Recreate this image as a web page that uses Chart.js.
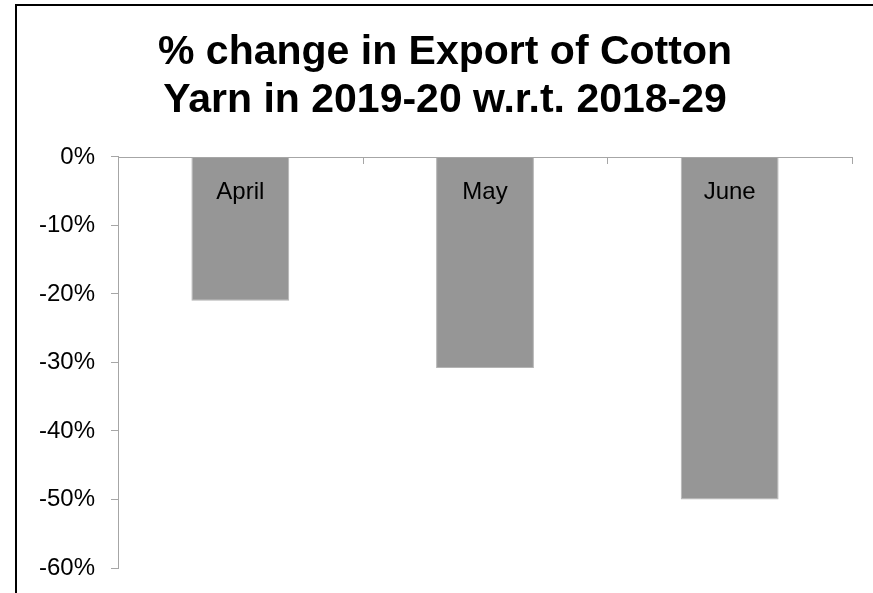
<!DOCTYPE html>
<html>
<head>
<meta charset="utf-8">
<script src="https://cdn.jsdelivr.net/npm/chart.js@4"></script>
<style>
  html, body { margin: 0; padding: 0; background: #fff; }
  #wrap { position: relative; width: 873px; height: 593px; overflow: hidden; }
  #c { position: absolute; left: 0; top: 0; }
  #frame { position: absolute; left: 15px; top: 4px; width: 1000px; height: 1000px;
           border-left: 2px solid #000; border-top: 2px solid #000; pointer-events: none; }
</style>
</head>
<body>
<div id="wrap">
  <canvas id="c" width="873" height="593"></canvas>
  <div id="frame"></div>
</div>
<script>
const titleLines = ['% change in Export of Cotton', 'Yarn in 2019-20 w.r.t. 2018-29'];
const categories = ['April', 'May', 'June'];
const changeValues = [-21, -30.8, -50];
const yMin = -60, yMax = 0, yStep = 10;

const AXIS_GRAY = '#a6a6a6';
const FONT = "'Liberation Sans', Arial, sans-serif";

const xAxisPlugin = {
  id: 'xAxisPlugin',
  afterDatasetsDraw(chart) {
    const ctx = chart.ctx;
    const xs = chart.scales.x, ys = chart.scales.y;
    const y0 = ys.getPixelForValue(0);
    ctx.save();
    ctx.strokeStyle = AXIS_GRAY;
    ctx.lineWidth = 1;
    ctx.beginPath();
    ctx.moveTo(xs.left, Math.round(y0) + 0.5);
    ctx.lineTo(xs.right, Math.round(y0) + 0.5);
    for (let i = 0; i <= categories.length; i++) {
      const x = Math.round(xs.getPixelForValue(i - 0.5)) + 0.5;
      ctx.moveTo(x, Math.round(y0));
      ctx.lineTo(x, Math.round(y0) + 7);
    }
    ctx.stroke();
    ctx.fillStyle = '#000';
    ctx.font = '24px ' + FONT;
    ctx.textAlign = 'center';
    ctx.textBaseline = 'middle';
    categories.forEach((c, i) => {
      ctx.fillText(c, xs.getPixelForValue(i), y0 + 35);
    });
    ctx.restore();
  }
};

new Chart(document.getElementById('c'), {
  type: 'bar',
  data: {
    labels: categories,
    datasets: [{
      data: changeValues,
      backgroundColor: '#969696',
      borderColor: '#b4b4b4',
      borderWidth: 1,
      categoryPercentage: 0.8,
      barPercentage: 0.5
    }]
  },
  options: {
    responsive: false,
    animation: false,
    devicePixelRatio: 1,
    layout: { padding: { left: 38, right: 21, top: 0, bottom: 25 } },
    plugins: {
      legend: { display: false },
      tooltip: { enabled: false },
      title: {
        display: true,
        text: titleLines,
        color: '#000',
        font: { family: FONT, size: 41, weight: 'bold', lineHeight: 1.17 },
        padding: { top: 29, bottom: 32 }
      }
    },
    scales: {
      x: { display: false },
      y: {
        min: yMin, max: yMax,
        position: 'left',
        afterFit(scale) {
          scale.width = 80;
          scale.paddingBottom = 0;
          scale.paddingTop = 0;
        },
        ticks: {
          stepSize: yStep,
          color: '#000',
          padding: 16,
          font: { family: FONT, size: 24 },
          callback: v => v + '%'
        },
        grid: { drawOnChartArea: false, tickLength: 7, tickColor: AXIS_GRAY, color: AXIS_GRAY },
        border: { color: AXIS_GRAY, width: 1 }
      }
    }
  },
  plugins: [xAxisPlugin]
});
</script>
</body>
</html>
